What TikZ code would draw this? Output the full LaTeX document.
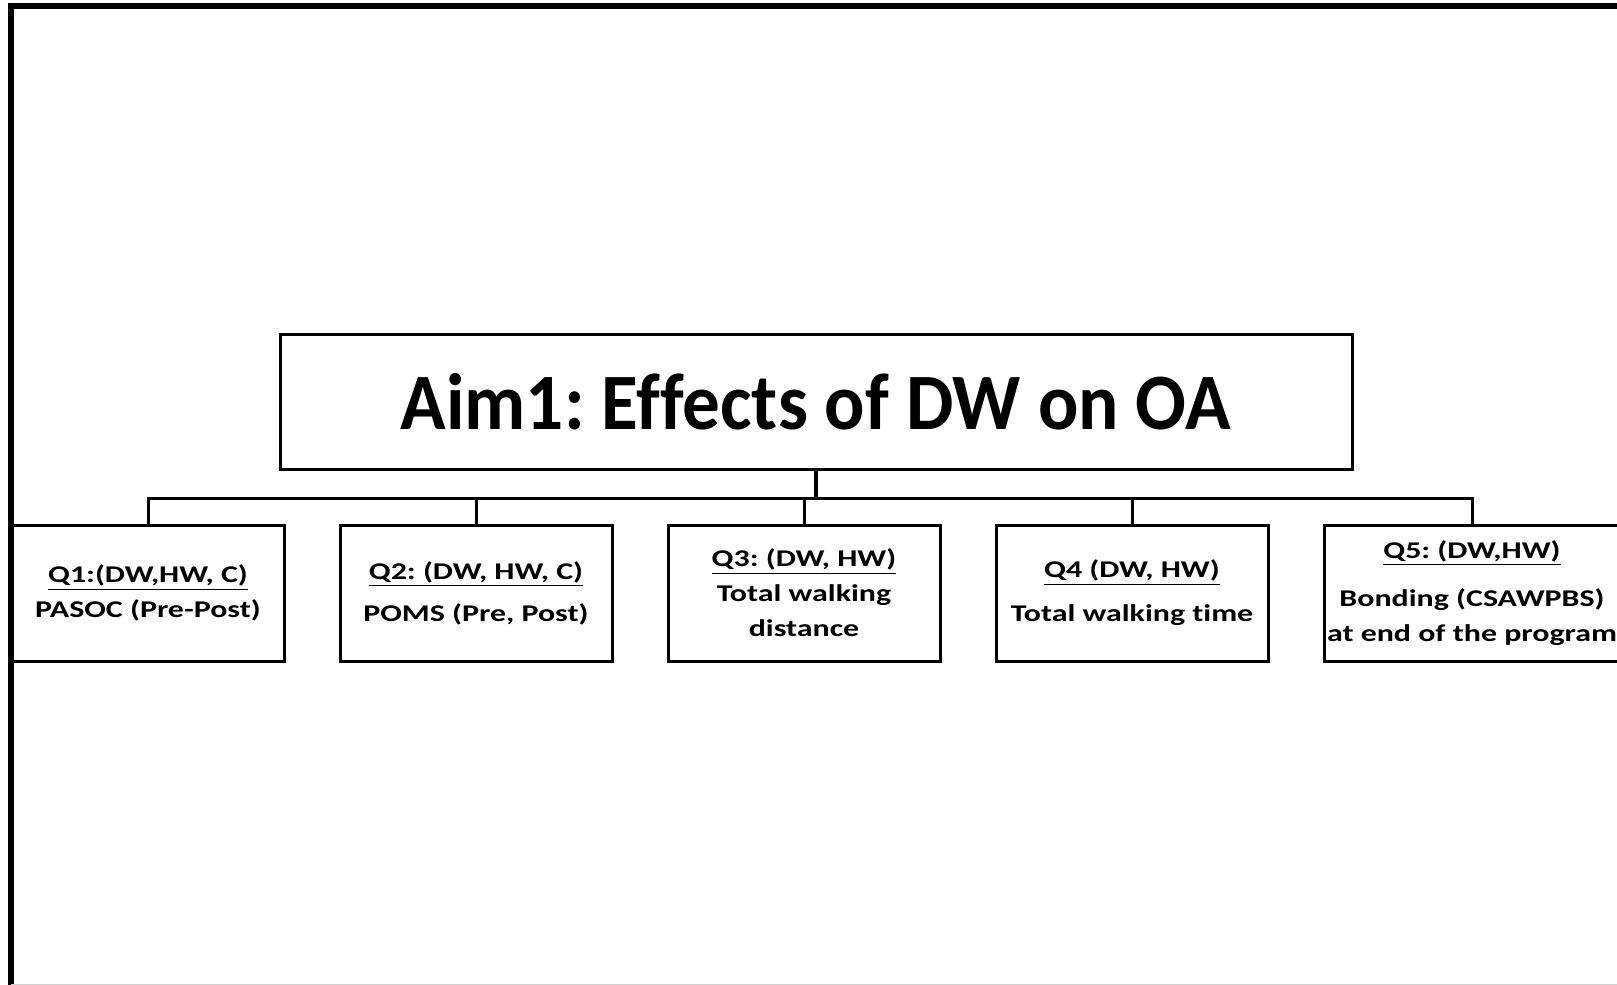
\documentclass[tikz,border=0pt]{standalone}
\usepackage{fontspec}
\setmainfont{Carlito}
\newfontfamily\titlefont[FakeStretch=0.94,Ligatures=NoCommon]{Carlito}
\newfontfamily\qfont[FakeStretch=1.33,Ligatures=NoCommon]{Carlito}
\usetikzlibrary{positioning}

\begin{document}
\frenchspacing
\begin{tikzpicture}[x=0.5pt,y=-0.5pt,node distance=26.5pt,
    aimbox/.style={draw,line width=1.5pt,minimum width=536pt,minimum height=67.5pt,font=\titlefont\fontsize{40}{48}\selectfont\bfseries},
    qbox/.style={draw,line width=1.5pt,minimum width=136pt,minimum height=68pt,inner xsep=0pt,align=center,font=\qfont\fontsize{12}{17.5}\selectfont\bfseries},
    link/.style={line width=1.5pt},
    trunk/.style={line width=2.25pt},
    frame/.style={line width=3pt}]
  \useasboundingbox (0,0) rectangle (1617,985);
  \clip (0,0) rectangle (1617,985);
  % page frame, runs off the right and bottom
  \draw[frame] (11,995) -- (11,6) -- (1630,6);
  \draw[black!18,line width=0.5pt] (11,984) -- (1630,984);

  \node[aimbox] (aim) at (816,401.5) {Aim1: Effects of DW on OA};
  \node[qbox] (q1) at (148,593) {\underline{Q1:(DW,HW, C)}\\PASOC (Pre-Post)};
  \node[qbox] (q2) [right=of q1] {\underline{Q2: (DW, HW, C)}\\[3.5pt]POMS (Pre, Post)};
  \node[qbox] (q3) [right=of q2] {\underline{Q3: (DW, HW)}\\Total walking\\distance};
  \node[qbox] (q4) [right=of q3] {\underline{Q4 (DW, HW)}\\[4.5pt]Total walking time};
  \node[qbox, minimum width=148pt] (q5) [right=of q4] {\underline{Q5: (DW,HW)}\\[6.5pt]Bonding (CSAWPBS)\\at end of the program};

  \coordinate (bus) at ([yshift=-14pt]aim.south);
  \draw[trunk] (aim.south) -- (bus);
  \foreach \q in {q1,q2,q3,q4,q5}
    \draw[link] (\q.north) |- (bus);
\end{tikzpicture}
\end{document}
